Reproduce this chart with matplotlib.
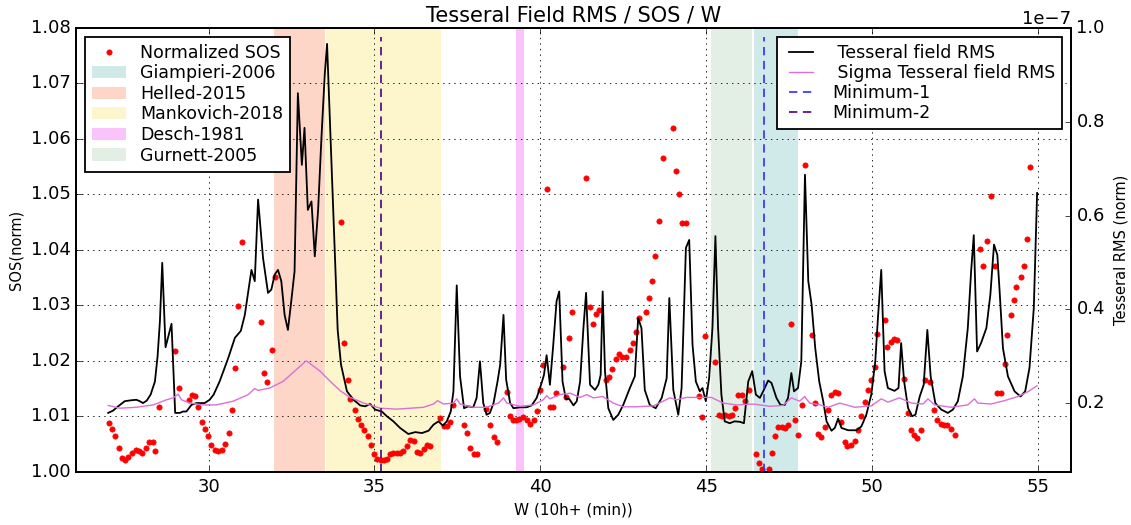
import matplotlib
matplotlib.use("Agg")
import matplotlib.pyplot as plt
import numpy as np

# ---------------------------------------------------------------- data
sos_w = [26.99, 27.08, 27.18, 27.30, 27.40, 27.49, 27.57, 27.69, 27.80, 27.90,
         27.98, 28.10, 28.21, 28.31, 28.39, 28.51, 29.00, 29.10, 29.40, 29.49,
         29.59, 29.68, 29.80, 29.89, 29.99, 30.08, 30.19, 30.29, 30.39, 30.48,
         30.61, 30.69, 30.79, 30.88, 31.00, 31.59, 31.68, 31.77, 31.91, 31.99,
         33.99, 34.09, 34.19, 34.27, 34.40, 34.49, 34.58, 34.68, 34.80, 34.89,
         34.98, 35.08, 35.21, 35.29, 35.38, 35.48, 35.57, 35.67, 35.77, 35.87,
         35.99, 36.08, 36.18, 36.28, 36.38, 36.50, 36.59, 36.68, 36.98, 37.09,
         37.18, 37.29, 37.38, 37.70, 37.79, 37.89, 37.99, 38.10, 38.37, 38.47,
         38.59, 38.70, 39.00, 39.08, 39.17, 39.27, 39.37, 39.48, 39.59, 39.69,
         39.80, 39.90, 39.98, 40.07, 40.20, 40.28, 40.37, 40.48, 40.69, 40.77,
         40.87, 40.97, 41.37, 41.50, 41.58, 41.68, 41.78, 41.98, 42.08, 42.17,
         42.28, 42.38, 42.47, 42.57, 42.69, 42.78, 42.88, 42.97, 43.18, 43.28,
         43.38, 43.47, 43.59, 43.69, 44.00, 44.09, 44.18, 44.28, 44.39, 44.78,
         44.89, 44.97, 45.28, 45.38, 45.47, 45.57, 45.68, 45.78, 45.88, 45.97,
         46.09, 46.18, 46.28, 46.49, 46.58, 46.68, 46.90, 46.98, 47.08, 47.18,
         47.29, 47.38, 47.48, 47.57, 47.67, 47.78, 47.88, 47.98, 48.18, 48.29,
         48.37, 48.47, 48.57, 48.68, 48.78, 48.88, 48.99, 49.08, 49.18, 49.26,
         49.38, 49.48, 49.58, 49.68, 49.78, 49.88, 49.98, 50.08, 50.15, 50.38,
         50.46, 50.56, 50.66, 50.76, 50.98, 51.09, 51.19, 51.27, 51.37, 51.49,
         51.59, 51.76, 51.86, 51.97, 52.07, 52.17, 52.27, 52.39, 52.49, 53.26,
         53.36, 53.46, 53.60, 53.70, 53.78, 53.88, 54.00, 54.08, 54.18, 54.28,
         54.35, 54.48, 54.58, 54.67, 54.76]
sos_norm = [1.0088, 1.0078, 1.0064, 1.0044, 1.0025, 1.0021, 1.0027, 1.0035, 1.0039, 1.0037,
            1.0035, 1.0044, 1.0054, 1.0054, 1.0038, 1.0117, 1.0218, 1.0151, 1.0130, 1.0138,
            1.0136, 1.0117, 1.0090, 1.0078, 1.0064, 1.0048, 1.0040, 1.0038, 1.0040, 1.0050,
            1.0070, 1.0112, 1.0187, 1.0299, 1.0415, 1.0270, 1.0178, 1.0162, 1.0219, 1.0351,
            1.0450, 1.0232, 1.0166, 1.0132, 1.0111, 1.0096, 1.0084, 1.0075, 1.0064, 1.0048,
            1.0033, 1.0024, 1.0021, 1.0022, 1.0024, 1.0033, 1.0034, 1.0034, 1.0035, 1.0038,
            1.0046, 1.0057, 1.0055, 1.0036, 1.0034, 1.0042, 1.0048, 1.0046, 1.0097, 1.0082,
            1.0082, 1.0090, 1.0121, 1.0084, 1.0070, 1.0044, 1.0033, 1.0033, 1.0114, 1.0084,
            1.0063, 1.0054, 1.0144, 1.0100, 1.0093, 1.0093, 1.0096, 1.0099, 1.0094, 1.0087,
            1.0093, 1.0109, 1.0147, 1.0193, 1.0509, 1.0117, 1.0117, 1.0142, 1.0189, 1.0135,
            1.0241, 1.0288, 1.0530, 1.0297, 1.0267, 1.0284, 1.0292, 1.0166, 1.0171, 1.0186,
            1.0204, 1.0212, 1.0207, 1.0207, 1.0219, 1.0232, 1.0252, 1.0277, 1.0288, 1.0314,
            1.0345, 1.0389, 1.0452, 1.0565, 1.0620, 1.0543, 1.0500, 1.0448, 1.0448, 1.0136,
            1.0099, 1.0245, 1.0199, 1.0103, 1.0100, 1.0102, 1.0100, 1.0102, 1.0115, 1.0139,
            1.0139, 1.0127, 1.0147, 1.0032, 1.0016, 1.0005, 1.0005, 1.0034, 1.0064, 1.0081,
            1.0081, 1.0079, 1.0084, 1.0266, 1.0093, 1.0067, 1.0121, 1.0554, 1.0247, 1.0125,
            1.0069, 1.0063, 1.0081, 1.0112, 1.0139, 1.0144, 1.0142, 1.0090, 1.0054, 1.0046,
            1.0049, 1.0055, 1.0076, 1.0100, 1.0126, 1.0147, 1.0166, 1.0189, 1.0249, 1.0273,
            1.0226, 1.0234, 1.0240, 1.0237, 1.0168, 1.0106, 1.0075, 1.0066, 1.0061, 1.0075,
            1.0166, 1.0162, 1.0112, 1.0094, 1.0087, 1.0085, 1.0085, 1.0078, 1.0066, 1.0401,
            1.0372, 1.0417, 1.0498, 1.0372, 1.0142, 1.0142, 1.0195, 1.0246, 1.0282, 1.0309,
            1.0334, 1.0351, 1.0372, 1.0419, 1.0550]

# Tesseral field RMS, in units of 1e-7
rms_w = [26.97, 27.12, 27.27, 27.47, 27.67, 27.82, 27.92, 28.02, 28.13, 28.25,
         28.38, 28.46, 28.53, 28.60, 28.70, 28.88, 28.99, 29.13, 29.23, 29.33,
         29.48, 29.63, 29.88, 30.03, 30.15, 30.33, 30.59, 30.79, 30.97, 31.09,
         31.29, 31.39, 31.49, 31.64, 31.79, 31.89, 31.99, 32.09, 32.19, 32.29,
         32.39, 32.49, 32.59, 32.69, 32.81, 32.89, 32.99, 33.10, 33.20, 33.30,
         33.40, 33.50, 33.57, 33.89, 33.99, 34.17, 34.37, 34.57, 34.72, 34.87,
         35.02, 35.22, 35.37, 35.57, 35.77, 36.02, 36.23, 36.43, 36.63, 36.78,
         36.93, 37.06, 37.18, 37.30, 37.38, 37.48, 37.58, 37.70, 37.83, 37.98,
         38.08, 38.18, 38.28, 38.38, 38.48, 38.59, 38.71, 38.79, 38.89, 38.97,
         39.09, 39.19, 39.39, 39.59, 39.74, 39.89, 40.04, 40.11, 40.19, 40.29,
         40.39, 40.49, 40.57, 40.67, 40.77, 40.87, 41.00, 41.10, 41.20, 41.30,
         41.38, 41.50, 41.65, 41.75, 41.82, 41.88, 41.95, 42.05, 42.20, 42.35,
         42.50, 42.70, 42.85, 42.95, 43.05, 43.15, 43.30, 43.48, 43.66, 43.81,
         43.89, 44.01, 44.16, 44.26, 44.39, 44.49, 44.59, 44.69, 44.81, 44.89,
         44.99, 45.09, 45.19, 45.28, 45.36, 45.46, 45.56, 45.71, 45.86, 46.02,
         46.14, 46.27, 46.39, 46.50, 46.62, 46.72, 46.87, 46.97, 47.12, 47.24,
         47.37, 47.47, 47.57, 47.65, 47.77, 47.87, 47.98, 48.08, 48.18, 48.29,
         48.41, 48.53, 48.63, 48.78, 48.88, 48.98, 49.08, 49.28, 49.53, 49.68,
         49.83, 49.98, 50.10, 50.18, 50.28, 50.38, 50.48, 50.68, 50.80, 50.88,
         50.97, 51.09, 51.21, 51.31, 51.44, 51.56, 51.67, 51.77, 51.91, 52.09,
         52.29, 52.44, 52.59, 52.74, 52.89, 52.99, 53.07, 53.17, 53.29, 53.45,
         53.57, 53.68, 53.78, 53.85, 53.95, 54.10, 54.30, 54.48, 54.62, 54.75,
         54.88, 54.98]
rms_val = [0.179, 0.184, 0.193, 0.204, 0.206, 0.207, 0.204, 0.200, 0.205, 0.218,
           0.246, 0.300, 0.374, 0.499, 0.319, 0.369, 0.179, 0.179, 0.182, 0.182,
           0.196, 0.200, 0.200, 0.207, 0.218, 0.246, 0.296, 0.339, 0.354, 0.388,
           0.484, 0.460, 0.634, 0.509, 0.435, 0.442, 0.474, 0.484, 0.460, 0.388,
           0.356, 0.417, 0.481, 0.861, 0.708, 0.787, 0.612, 0.630, 0.513, 0.612,
           0.765, 0.900, 0.966, 0.356, 0.282, 0.225, 0.207, 0.195, 0.193, 0.198,
           0.186, 0.182, 0.172, 0.161, 0.147, 0.134, 0.138, 0.136, 0.141, 0.154,
           0.161, 0.152, 0.161, 0.182, 0.225, 0.451, 0.257, 0.189, 0.193, 0.191,
           0.211, 0.289, 0.200, 0.175, 0.179, 0.200, 0.246, 0.282, 0.388, 0.250,
           0.200, 0.189, 0.191, 0.191, 0.195, 0.211, 0.243, 0.260, 0.302, 0.239,
           0.324, 0.417, 0.438, 0.246, 0.209, 0.209, 0.195, 0.204, 0.246, 0.360,
           0.435, 0.239, 0.228, 0.239, 0.260, 0.438, 0.268, 0.189, 0.164, 0.175,
           0.196, 0.232, 0.257, 0.381, 0.360, 0.228, 0.196, 0.189, 0.211, 0.253,
           0.424, 0.228, 0.175, 0.232, 0.531, 0.548, 0.324, 0.246, 0.225, 0.232,
           0.204, 0.253, 0.360, 0.556, 0.360, 0.218, 0.161, 0.157, 0.161, 0.160,
           0.157, 0.246, 0.268, 0.218, 0.211, 0.225, 0.248, 0.243, 0.211, 0.196,
           0.196, 0.211, 0.264, 0.225, 0.232, 0.289, 0.687, 0.460, 0.410, 0.317,
           0.246, 0.204, 0.161, 0.141, 0.147, 0.167, 0.147, 0.142, 0.142, 0.150,
           0.175, 0.218, 0.289, 0.381, 0.484, 0.268, 0.232, 0.226, 0.232, 0.328,
           0.246, 0.189, 0.172, 0.175, 0.214, 0.239, 0.356, 0.257, 0.200, 0.186,
           0.179, 0.186, 0.204, 0.257, 0.360, 0.481, 0.558, 0.310, 0.328, 0.360,
           0.431, 0.538, 0.516, 0.438, 0.317, 0.257, 0.225, 0.214, 0.225, 0.275,
           0.403, 0.648]

# Sigma of the tesseral field RMS, in units of 1e-7
sig_w = [26.97, 27.32, 27.82, 28.33, 28.73, 28.93, 29.08, 29.18, 29.43, 29.83,
         30.23, 30.74, 31.19, 31.39, 31.49, 31.84, 32.24, 32.64, 32.94, 33.04,
         33.36, 33.67, 33.97, 34.27, 34.67, 35.17, 35.67, 36.08, 36.48, 36.78,
         36.90, 37.08, 37.38, 37.48, 37.58, 37.98, 38.38, 38.74, 38.89, 38.99,
         39.39, 39.79, 40.09, 40.19, 40.29, 40.59, 40.90, 41.20, 41.40, 41.60,
         41.88, 42.20, 42.50, 42.90, 43.41, 43.91, 44.11, 44.41, 44.81, 45.16,
         45.51, 45.92, 46.42, 46.92, 47.32, 47.57, 47.82, 47.97, 48.12, 48.43,
         48.68, 49.03, 49.48, 49.98, 50.28, 50.48, 50.83, 51.19, 51.54, 51.69,
         51.89, 52.39, 52.89, 53.09, 53.19, 53.59, 53.99, 54.40, 54.70, 54.98]
sig_val = [0.195, 0.189, 0.191, 0.196, 0.207, 0.211, 0.219, 0.207, 0.200, 0.196,
           0.196, 0.204, 0.218, 0.231, 0.227, 0.232, 0.246, 0.271, 0.290, 0.285,
           0.268, 0.246, 0.226, 0.212, 0.200, 0.189, 0.187, 0.189, 0.191, 0.198,
           0.205, 0.198, 0.200, 0.209, 0.198, 0.191, 0.191, 0.200, 0.211, 0.200,
           0.193, 0.196, 0.207, 0.216, 0.209, 0.218, 0.221, 0.212, 0.218, 0.211,
           0.214, 0.200, 0.192, 0.192, 0.194, 0.211, 0.207, 0.212, 0.212, 0.212,
           0.200, 0.196, 0.198, 0.193, 0.195, 0.211, 0.204, 0.214, 0.200, 0.196,
           0.191, 0.200, 0.191, 0.194, 0.209, 0.202, 0.211, 0.200, 0.198, 0.209,
           0.196, 0.191, 0.196, 0.209, 0.200, 0.198, 0.205, 0.214, 0.224, 0.237]

# published rotation-period ranges (minutes past 10 h)
period_names = ["Giampieri-2006", "Helled-2015", "Mankovich-2018", "Desch-1981", "Gurnett-2005"]
period_lo = [46.43, 31.98, 33.55, 39.28, 45.15]
period_hi = [47.77, 33.52, 37.00, 39.52, 46.37]
period_colors = ["#cfeae9", "#fdd6c7", "#fdf5cc", "#fbc3fb", "#e3eee4"]

minima_names = ["Minimum-1", "Minimum-2"]
minima_w = [46.75, 35.2]
minima_colors = ["#2f2fff", "#4b0082"]

SCALE = 1e-7

# ---------------------------------------------------------------- figure
plt.style.use("classic")
plt.rcParams["font.family"] = ["DejaVu Sans"]

fig = plt.figure(figsize=(11.31, 5.25), dpi=100, facecolor="white")
ax1 = fig.add_axes([0.0672, 0.1010, 0.8797, 0.8457])
ax1.set_facecolor("white")

span_handles = []
for name, lo, hi, col in zip(period_names, period_lo, period_hi, period_colors):
    h = ax1.axvspan(lo, hi, color=col, lw=0, label=name, zorder=0)
    span_handles.append(h)

dots, = ax1.plot(sos_w, sos_norm, "o", color="red", markeredgecolor="red",
                 markersize=3.8, label="Normalized SOS", zorder=3)

ax1.set_xlim(26, 56)
ax1.set_ylim(1.00, 1.08)
ax1.set_xticks([30, 35, 40, 45, 50, 55])
ax1.set_yticks(np.arange(1.00, 1.0801, 0.01))
ax1.yaxis.set_major_formatter(matplotlib.ticker.FormatStrFormatter("%.2f"))
ax1.grid(True, linestyle=":", color="black", linewidth=0.6)
ax1.tick_params(labelsize=13, direction="in")
ax1.set_xlabel("W (10h+ (min))", fontsize=11)
ax1.set_ylabel("SOS(norm)", fontsize=10.5)
ax1.set_title("Tesseral Field RMS / SOS / W", fontsize=15)

ax2 = ax1.twinx()
l_rms, = ax2.plot(rms_w, np.array(rms_val) * SCALE, color="black", lw=1.3,
                  label=" Tesseral field RMS")
l_sig, = ax2.plot(sig_w, np.array(sig_val) * SCALE, color="orchid", lw=1.0,
                  label=" Sigma Tesseral field RMS")
min_handles = []
for name, w, col in zip(minima_names, minima_w, minima_colors):
    h = ax2.axvline(w, ymin=0, ymax=0.98, color=col, ls="--", lw=1.2,
                    dashes=(6, 4), label=name)
    min_handles.append(h)
ax2.set_ylim(0.053 * SCALE, 1.0 * SCALE)
ax2.set_yticks(np.array([0.2, 0.4, 0.6, 0.8, 1.0]) * SCALE)
ax2.tick_params(labelsize=13, direction="in")
ax2.yaxis.get_offset_text().set_fontsize(13)
ax2.set_ylabel("Tesseral RMS (norm)", fontsize=10.5, labelpad=6)

for ax in (ax1, ax2):
    for sp in ax.spines.values():
        sp.set_linewidth(1.3)

leg1 = ax1.legend(handles=[dots] + span_handles, loc="upper left", fontsize=12.5,
                  numpoints=1, labelspacing=0.15, handlelength=2.0,
                  handletextpad=0.8, borderaxespad=0.5, fancybox=False)
leg1.get_frame().set_linewidth(1.3)
leg1.set_zorder(10)
leg2 = ax2.legend(handles=[l_rms, l_sig] + min_handles, loc="upper right",
                  fontsize=12.5, labelspacing=0.12, handlelength=2.0,
                  handletextpad=0.8, borderaxespad=0.5, fancybox=False)
leg2.get_frame().set_linewidth(1.3)

fig.savefig("out.png", dpi=100, facecolor="white")
